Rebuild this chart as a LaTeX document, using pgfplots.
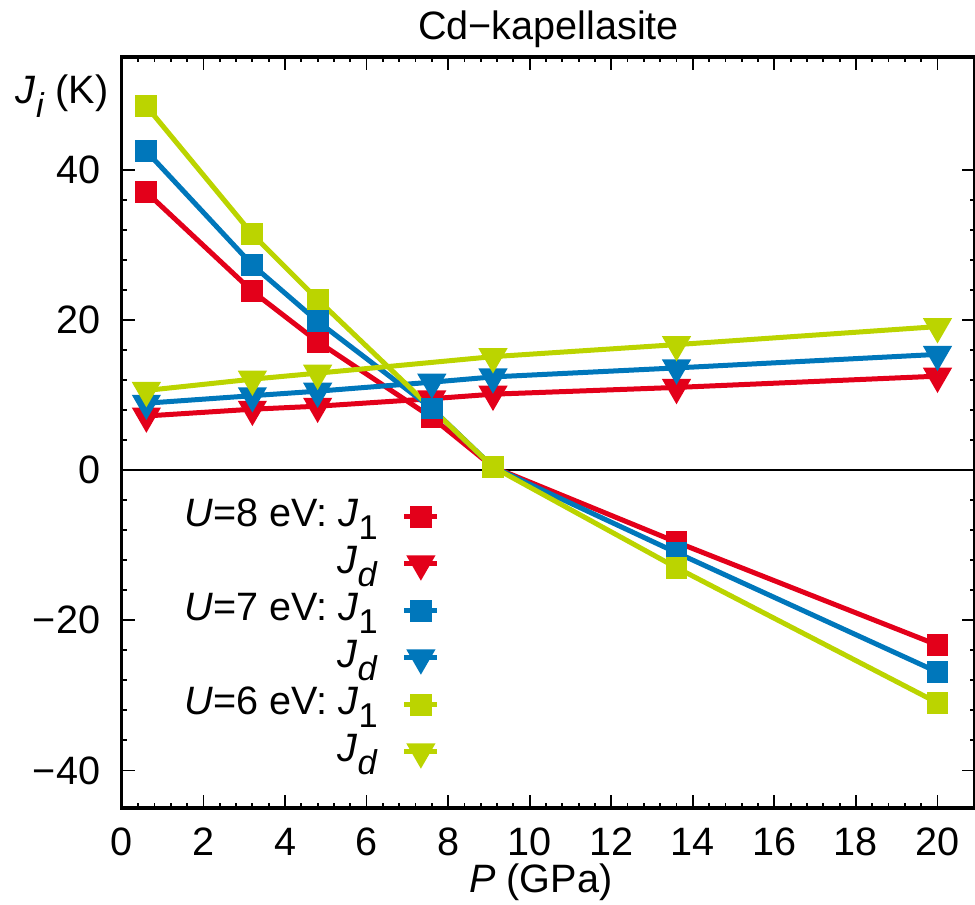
\documentclass[border=0pt]{standalone}
\usepackage{fontspec}
\setmainfont{Liberation Sans}
\usepackage{pgfplots}
\pgfplotsset{compat=1.18}
\definecolor{cR}{RGB}{227,0,26}
\definecolor{cB}{RGB}{0,119,187}
\definecolor{cG}{RGB}{187,212,0}
\newcommand{\sub}[1]{\raisebox{-0.35em}{\fontsize{8.6}{8.6}\selectfont #1}}
\begin{document}
\fontsize{9.9}{12}\selectfont
\begin{tikzpicture}
\begin{axis}[
 name=ax,
 scale only axis, width=213.28pt, height=187.75pt,
 xmin=0, xmax=20.92, ymin=-45, ymax=55,
 xtick={0,2,...,20}, ytick={-40,-20,0,20,40},
 yticklabels={−40,−20,0,20,40},
 minor x tick num=4, minor y tick num=4,
 tick align=inside,
 major tick length=3.25pt, minor tick length=1.3pt,
 every tick/.style={black, line width=0.45pt},
 axis line style={line width=0.8pt},
 /pgf/number format/assume math mode=true,
 xticklabel style={anchor=base, yshift=-12pt, inner sep=0pt},
 yticklabel style={anchor=east, xshift=-5.25pt, inner sep=0pt},
 legend style={draw=none, fill=none, at={(axis cs:7.8,-3.1)}, anchor=north east,
   inner sep=0pt, outer sep=0pt, row sep=0pt, column sep=6pt,
   nodes={inner sep=0pt, text height=8.2pt, text depth=3.55pt}},
 legend cell align=right, legend plot pos=right,
 legend image code/.code={\draw[mark repeat=2,mark phase=2,#1] plot coordinates {(0pt,0pt)(4.15pt,0pt)(8.3pt,0pt)};},
 every axis plot/.append style={line width=1.25pt},
]
\addplot[black, line width=0.4pt, forget plot] coordinates {(0,0) (21,0)};
\addplot[cR, mark=square*, mark size=2.1pt] coordinates {(0.6,37.0) (3.2,23.8) (4.8,17.1) (7.6,7.0) (9.1,0.4) (13.6,-9.6) (20,-23.3)};
\addlegendentry{\textit{U}=8 eV: \textit{J}\sub{1}}
\addplot[cR, mark=triangle*, mark size=2.97pt, mark options={rotate=180}] coordinates {(0.6,7.2) (3.2,8.1) (4.8,8.5) (7.6,9.5) (9.1,10.1) (13.6,11.0) (20,12.5)};
\addlegendentry{\textit{J}\sub{\textit{d}}}
\addplot[cB, mark=square*, mark size=2.1pt] coordinates {(0.6,42.45) (3.2,27.3) (4.8,19.8) (7.6,8.2) (9.1,0.4) (13.6,-11.0) (20,-26.9)};
\addlegendentry{\textit{U}=7 eV: \textit{J}\sub{1}}
\addplot[cB, mark=triangle*, mark size=2.97pt, mark options={rotate=180}] coordinates {(0.6,8.9) (3.2,9.9) (4.8,10.5) (7.6,11.7) (9.1,12.4) (13.6,13.6) (20,15.4)};
\addlegendentry{\textit{J}\sub{\textit{d}}}
\addplot[cG, mark=square*, mark size=2.1pt] coordinates {(0.6,48.45) (3.2,31.4) (4.8,22.7) (9.1,0.4) (13.6,-13.0) (20,-31.0)};
\addlegendentry{\textit{U}=6 eV: \textit{J}\sub{1}}
\addplot[cG, mark=triangle*, mark size=2.97pt, mark options={rotate=180}] coordinates {(0.6,10.6) (3.2,12.1) (4.8,12.9) (9.1,15.1) (13.6,16.7) (20,19.1)};
\addlegendentry{\textit{J}\sub{\textit{d}}}
\end{axis}
\node[anchor=base] at ([yshift=4.25pt]ax.north) {Cd−kapellasite};
\node[anchor=base west, inner sep=0pt] at ([xshift=-26.7pt, yshift=-11.75pt]ax.north west) {\textit{J}\sub{\textit{i}} (K)};
\node[anchor=base, inner sep=0pt] at ([xshift=-1.9pt, yshift=-21.25pt]ax.south) {\textit{P} (GPa)};
\pgfresetboundingbox
\path[use as bounding box] ([xshift=-30.475pt, yshift=-24.25pt]ax.south west) rectangle ([yshift=14.25pt]ax.north east);
\end{tikzpicture}
\end{document}
